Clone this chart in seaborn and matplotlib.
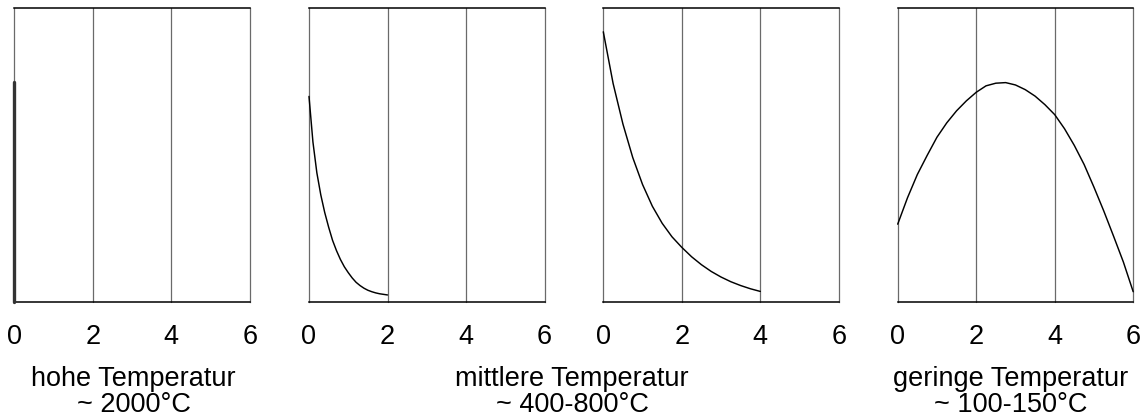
import matplotlib
matplotlib.use("Agg")
import matplotlib.pyplot as plt
import seaborn as sns
import pandas as pd

sns.set_theme(style="white")
plt.rcParams['font.family'] = ['Liberation Sans', 'DejaVu Sans']

# ---- data ----
x_ticks = [0, 2, 4, 6]
grid_x = [2, 4]

hohe_x = [0, 0]
hohe_y = [0, 75]

mittel1_x = [0.0, 0.1, 0.2, 0.3, 0.4, 0.5, 0.6, 0.7, 0.8, 0.9, 1.0,
             1.1, 1.2, 1.3, 1.4, 1.5, 1.6, 1.7, 1.8, 1.9, 2.0]
mittel1_y = [70, 54.5, 44, 36.5, 30.5, 25.5, 21, 17.5, 14.5, 12, 10,
             8.2, 6.7, 5.6, 4.7, 4.0, 3.5, 3.1, 2.8, 2.6, 2.4]

mittel2_x = [0.0, 0.25, 0.5, 0.75, 1.0, 1.25, 1.5, 1.75, 2.0,
             2.25, 2.5, 2.75, 3.0, 3.25, 3.5, 3.75, 4.0]
mittel2_y = [92, 74.4, 60.6, 49.2, 40, 32.6, 26.8, 22.2, 18.6,
             15.4, 12.7, 10.4, 8.5, 6.9, 5.6, 4.5, 3.6]

gering_x = [0.0, 0.25, 0.5, 0.75, 1.0, 1.25, 1.5, 1.75, 2.0, 2.25, 2.5, 2.75,
            3.0, 3.25, 3.5, 3.75, 4.0, 4.25, 4.5, 4.75, 5.0, 5.25, 5.5, 5.75, 6.0]
gering_y = [26.5, 35.5, 43.4, 49.9, 56.1, 61.0, 65.1, 68.5, 71.4, 73.6, 74.5, 74.7,
            73.9, 72.3, 70.1, 67.2, 63.8, 59.0, 53.3, 46.8, 39.1, 31.0, 22.4, 13.6, 3.5]

labels = [("hohe Temperatur", "~ 2000°C"),
          ("mittlere Temperatur", "~ 400-800°C"),
          ("geringe Temperatur", "~ 100-150°C")]

series = [(hohe_x, hohe_y), (mittel1_x, mittel1_y),
          (mittel2_x, mittel2_y), (gering_x, gering_y)]

# ---- figure ----
W, H = 1141, 417
fig = plt.figure(figsize=(W / 100, H / 100), dpi=100)

lefts = [14.3, 309.0, 603.3, 897.7]
ax_w = 235.5
ax_top, ax_bot = 8.3, 302.0
grid_col = "#6a6a6a"
fs = 19.5

for i, (xs, ys) in enumerate(series):
    ax = fig.add_axes([lefts[i] / W, 1 - ax_bot / H, ax_w / W, (ax_bot - ax_top) / H])
    for gx in grid_x:
        ax.axvline(gx, color=grid_col, lw=0.9, zorder=1)
    df = pd.DataFrame({"x": xs, "y": ys})
    lw = 2.4 if i == 0 else 1.05
    col = "#333333" if i == 0 else "black"
    sns.lineplot(data=df, x="x", y="y", ax=ax, color=col, lw=lw,
                 sort=False, estimator=None, zorder=3)
    for ln in ax.lines:
        ln.set_clip_on(False)
    ax.set_xlim(0, 6)
    ax.set_ylim(0, 100)
    ax.set_xticks(x_ticks)
    ax.set_xticklabels([str(t) for t in x_ticks], fontsize=fs, color="black")
    ax.set_yticks([])
    ax.set_xlabel("")
    ax.set_ylabel("")
    ax.tick_params(axis="x", length=0, pad=16)
    for side in ["left", "right"]:
        ax.spines[side].set_color(grid_col)
        ax.spines[side].set_linewidth(0.9)
    for side in ["top", "bottom"]:
        ax.spines[side].set_color("black")
        ax.spines[side].set_linewidth(1.1)
    ax.set_facecolor("white")

label_cx = [133.5, 572, 1011]
for (l1, l2), cx in zip(labels, label_cx):
    fig.text(cx / W, 1 - 385.5 / H, l1, ha="center", va="baseline", fontsize=fs, color="black")
    fig.text(cx / W, 1 - 412.0 / H, l2, ha="center", va="baseline", fontsize=fs, color="black")

fig.savefig("out.png", dpi=100, facecolor="white")
